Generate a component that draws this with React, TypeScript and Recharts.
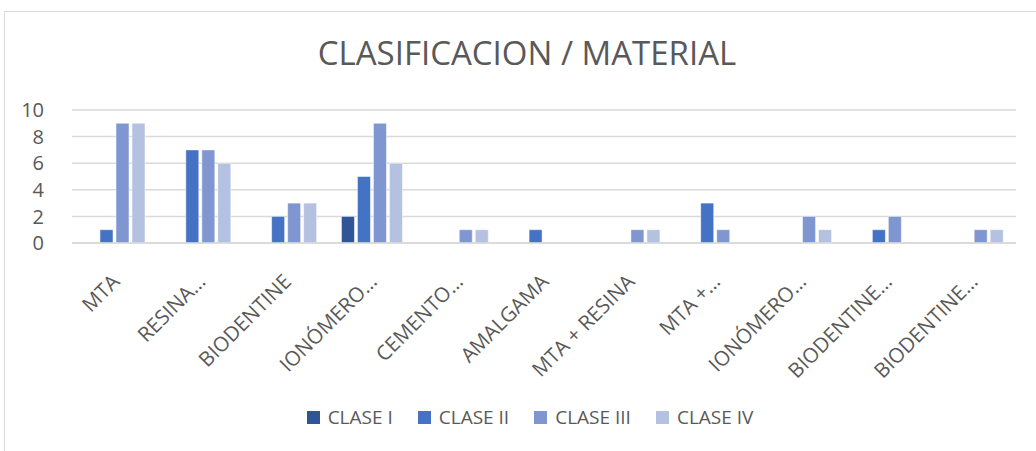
import { BarChart, Bar, XAxis, YAxis, CartesianGrid } from "recharts";

const materials = [
  "MTA",
  "RESINA…",
  "BIODENTINE",
  "IONÓMERO…",
  "CEMENTO…",
  "AMALGAMA",
  "MTA + RESINA",
  "MTA +…",
  "IONÓMERO…",
  "BIODENTINE…",
  "BIODENTINE…",
];
const claseI = [0, 0, 0, 2, 0, 0, 0, 0, 0, 0, 0];
const claseII = [1, 7, 2, 5, 0, 1, 0, 3, 0, 1, 0];
const claseIII = [9, 7, 3, 9, 1, 0, 1, 1, 2, 2, 1];
const claseIV = [9, 6, 3, 6, 1, 0, 1, 0, 1, 0, 1];
const yTicks = [0, 2, 4, 6, 8, 10];

const series = [
  { key: "c1", name: "CLASE I", color: "#2f5597" },
  { key: "c2", name: "CLASE II", color: "#4472c4" },
  { key: "c3", name: "CLASE III", color: "#7f96d1" },
  { key: "c4", name: "CLASE IV", color: "#b4c1e1" },
];

const data = materials.map((m, i) => ({
  name: m,
  c1: claseI[i],
  c2: claseII[i],
  c3: claseIII[i],
  c4: claseIV[i],
}));

const FONT = "'Open Sans', sans-serif";
const GREY = "#595959";

function XTick(props: any) {
  const { x, y, payload } = props;
  const ax = x + 6;
  const ay = y + 32;
  return (
    <text
      x={ax}
      y={ay}
      transform={`rotate(-45, ${ax}, ${ay})`}
      textAnchor="end"
      fill={GREY}
      fontSize={20.5}
      fontFamily={FONT}
    >
      {payload.value}
    </text>
  );
}

function LegendBox() {
  return (
    <div
      style={{
        position: "absolute",
        top: 404,
        left: 0,
        width: 1060,
        display: "flex",
        justifyContent: "center",
        gap: 25,
        fontFamily: FONT,
        fontSize: 19,
        color: GREY,
      }}
    >
      {series.map((s) => (
        <span key={s.key} style={{ display: "flex", alignItems: "center" }}>
          <span style={{ width: 13, height: 13, background: s.color, marginRight: 8, display: "inline-block" }} />
          {s.name}
        </span>
      ))}
    </div>
  );
}

export default function App() {
  return (
    <div style={{ position: "absolute", left: 0, top: 0, width: 1036, height: 451, overflow: "hidden", background: "#fff" }}>
      <div
        style={{
          position: "absolute",
          left: 4,
          top: 11,
          width: 1100,
          height: 500,
          border: "1px solid #d9d9d9",
        }}
      />
      <div
        style={{
          position: "absolute",
          top: 30,
          left: 0,
          width: 1054,
          textAlign: "center",
          fontFamily: FONT,
          fontSize: 33,
          color: GREY,
        }}
      >
        CLASIFICACION / MATERIAL
      </div>
      <div style={{ position: "absolute", left: 0, top: 0 }}>
        <BarChart
          width={1036}
          height={451}
          data={data}
          margin={{ top: 110, right: 20, left: 0, bottom: 0 }}
          barCategoryGap={12}
          barGap={3}
        >
          <CartesianGrid vertical={false} stroke="#d9d9d9" strokeWidth={1.5} />
          <YAxis
            width={72}
            domain={[0, 10]}
            ticks={yTicks}
            interval={0}
            axisLine={false}
            tickLine={false}
            tickMargin={22}
            tick={{ fill: GREY, fontSize: 20, fontFamily: FONT }}
          />
          <XAxis
            dataKey="name"
            height={208}
            interval={0}
            axisLine={{ stroke: "#d9d9d9", strokeWidth: 1.5 }}
            tickLine={false}
            tick={<XTick />}
          />
          {series.map((s) => (
            <Bar key={s.key} dataKey={s.key} name={s.name} fill={s.color} stroke="#fff" strokeWidth={0.5} isAnimationActive={false} />
          ))}
        </BarChart>
      </div>
      <LegendBox />
    </div>
  );
}
